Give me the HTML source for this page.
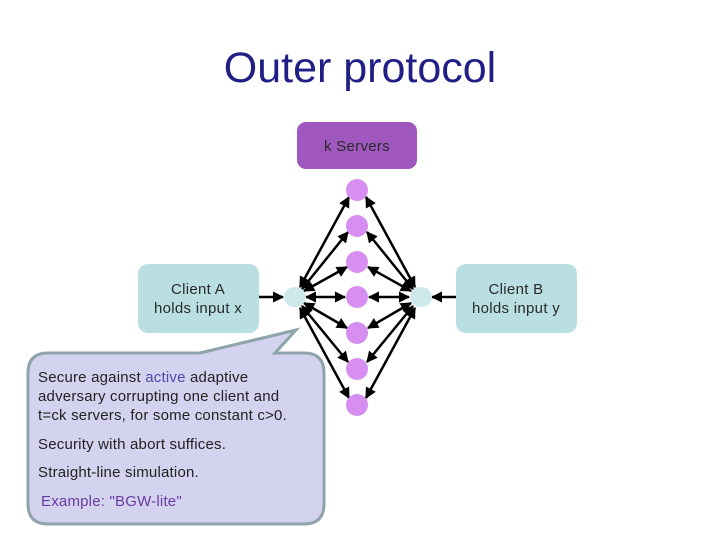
<!DOCTYPE html>
<html><head><style>
html,body{margin:0;padding:0;background:#fff;width:720px;height:540px;overflow:hidden}
svg{display:block}
text{font-family:"Liberation Sans",sans-serif}
</style></head><body>
<svg width="720" height="540" viewBox="0 0 720 540">
<defs>
<marker id="a" viewBox="0 0 10 10" refX="9" refY="5" markerWidth="4.5" markerHeight="4.5" orient="auto-start-reverse">
<path d="M0,0 L10,5 L0,10 z" fill="#000"/></marker>
</defs>
<text x="360" y="82" font-size="43" text-anchor="middle" fill="#1f1f85">Outer protocol</text>
<rect x="297" y="122" width="120" height="47" rx="9" fill="#a057c0"/>
<rect x="138" y="264" width="121" height="69" rx="10" fill="#b9dfe2"/>
<rect x="456" y="264" width="121" height="69" rx="10" fill="#b9dfe2"/>
<g font-size="15" letter-spacing="0.3" fill="#2a2a2a">
<text x="357" y="151" text-anchor="middle">k Servers</text>
<text x="198" y="294" text-anchor="middle">Client A</text>
<text x="198" y="313" text-anchor="middle">holds input x</text>
<text x="516" y="294" text-anchor="middle">Client B</text>
<text x="516" y="313" text-anchor="middle">holds input y</text>
</g>
<g stroke="#000" stroke-width="2.5" marker-start="url(#a)" marker-end="url(#a)">
<line x1="300" y1="287" x2="349" y2="197"/>
<line x1="302" y1="289" x2="348" y2="232"/>
<line x1="304" y1="291" x2="347" y2="267"/>
<line x1="306" y1="297" x2="345" y2="297"/>
<line x1="304" y1="303" x2="347" y2="328"/>
<line x1="302" y1="306" x2="348" y2="362"/>
<line x1="300" y1="308" x2="349" y2="398"/>
<line x1="415" y1="287" x2="366" y2="197"/>
<line x1="413" y1="289" x2="367" y2="232"/>
<line x1="411" y1="291" x2="368" y2="267"/>
<line x1="409" y1="297" x2="369" y2="297"/>
<line x1="411" y1="303" x2="368" y2="328"/>
<line x1="413" y1="306" x2="367" y2="362"/>
<line x1="415" y1="308" x2="366" y2="398"/>
</g>
<g stroke="#000" stroke-width="2.5">
<line x1="259" y1="297" x2="283" y2="297" marker-end="url(#a)"/>
<line x1="456" y1="297" x2="432" y2="297" marker-end="url(#a)"/>
</g>
<g fill="#d68ef0">
<circle cx="357" cy="190" r="11"/><circle cx="357" cy="226" r="11"/><circle cx="357" cy="262" r="11"/>
<circle cx="357" cy="297" r="11"/><circle cx="357" cy="333" r="11"/><circle cx="357" cy="369" r="11"/>
<circle cx="357" cy="405" r="11"/>
</g>
<ellipse cx="295" cy="297" rx="11" ry="10" fill="#cde8ea"/>
<ellipse cx="421" cy="297" rx="11" ry="10" fill="#cde8ea"/>
<path d="M48,353 L200,353 L296,330 L275,353 L304,353 Q324,353 324,373 L324,504 Q324,524 304,524 L48,524 Q28,524 28,504 L28,373 Q28,353 48,353 Z" fill="#d3d3f0" stroke="#8fa3aa" stroke-width="3"/>
<g font-size="15" letter-spacing="0.2" fill="#222">
<text x="38" y="382">Secure against <tspan fill="#4a4aa8">active</tspan> adaptive</text>
<text x="38" y="401">adversary corrupting one client and</text>
<text x="38" y="420">t=ck servers, for some constant c&gt;0.</text>
<text x="38" y="449">Security with abort suffices.</text>
<text x="38" y="477">Straight-line simulation.</text>
<text x="41" y="506" fill="#6a3aa0">Example: "BGW-lite"</text>
</g>
</svg>
</body></html>
